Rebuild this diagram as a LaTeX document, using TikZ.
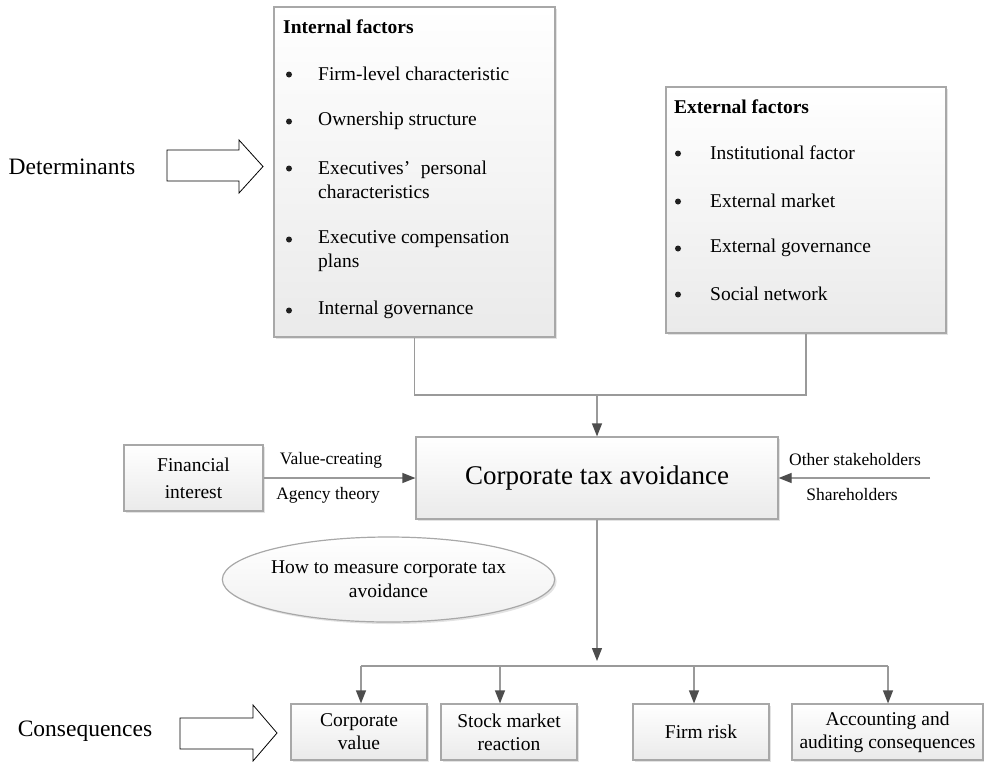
\documentclass[tikz,border=0pt]{standalone}
\usepackage{fontspec}
\setmainfont{Liberation Serif}
\usetikzlibrary{arrows.meta,shadows,shapes.geometric}

\definecolor{edgegray}{HTML}{A8A8A8}
\definecolor{linegray}{HTML}{9A9A9A}
\definecolor{tipgray}{HTML}{4D4D4D}
\definecolor{fillbot}{HTML}{EAEAEA}
\definecolor{fillell}{HTML}{F0F0F0}
\definecolor{bulletc}{HTML}{202020}

\tikzset{
  panel/.style={draw=edgegray, line width=1.2pt, top color=white, bottom color=fillbot,
    drop shadow={shadow xshift=2pt, shadow yshift=-2pt, opacity=0.22, fill=gray},
    inner sep=0pt, align=center},
  conn/.style={draw=linegray, line width=1.2pt},
  arr/.style={conn, -{Triangle[width=10pt,length=13pt,color=tipgray]}},
  itm/.style={font=\fontsize{19.5}{24}\selectfont, inner sep=0pt, anchor=west, align=left},
  ttl/.style={font=\fontsize{19.5}{24}\selectfont\bfseries, inner sep=0pt, anchor=west},
  bul/.style={circle, fill=bulletc, inner sep=0pt, minimum size=6pt},
  lbl/.style={font=\fontsize{17.5}{24}\selectfont, inner sep=0pt, align=center},
  big/.style={font=\fontsize{23.5}{28}\selectfont, inner sep=0pt},
  bottombox/.style={panel, minimum height=56, font=\fontsize{19.5}{23}\selectfont},
  hollow/.style={draw=black, line width=0.8pt, fill=white},
}

\begin{document}
\begin{tikzpicture}[x=1pt,y=-1pt]
\useasboundingbox (0,0) rectangle (984,761);

% ---- main boxes
\node[panel, minimum width=281, minimum height=330] (internal) at (414.5,172) {};
\node[panel, minimum width=280, minimum height=246] (external) at (806,210) {};
\node[panel, minimum width=362, minimum height=82, font=\fontsize{27}{32}\selectfont] (central) at (597,478) {Corporate tax avoidance};
\node[panel, minimum width=139, minimum height=66, font=\fontsize{19.5}{27}\selectfont] (fin) at (193.5,478) {Financial\\interest};
\node[panel, ellipse, bottom color=fillell, minimum width=279, minimum height=85, font=\fontsize{19.5}{24}\selectfont] (measure) at (388.5,579.5) {How to measure corporate tax\\avoidance};

% ---- bottom boxes
\node[bottombox, minimum width=136] (cv) at (359,732) {Corporate\\value};
\node[bottombox, minimum width=136] (sm) at (509,732) {Stock market\\reaction};
\node[bottombox, minimum width=136] (fr) at (701,732) {Firm risk};
\node[bottombox, minimum width=191] (ac) at (887.5,732) {Accounting and\\auditing consequences};

% ---- internal factors text
\node[ttl] (it) at (283,27) {Internal factors};
\node[bul] (ib1) at (289,74.5) {};
\node[itm] (i1) at (318,74) {Firm-level characteristic};
\node[bul] (ib2) at (289,121.5) {};
\node[itm] (i2) at (318,121) {Ownership structure};
\node[bul] (ib3) at (289,168.5) {};
\node[itm] (i3) at (318,180) {Executives’\hspace{0.55em}personal\\characteristics};
\node[bul] (ib4) at (289,239.5) {};
\node[itm] (i4) at (318,251) {Executive compensation\\plans};
\node[bul] (ib5) at (289,310.5) {};
\node[itm] (i5) at (318,310) {Internal governance};

% ---- external factors text
\node[ttl] (et) at (674,107) {External factors};
\node[bul] (eb1) at (678,153.5) {};
\node[itm] (e1) at (710,153) {Institutional factor};
\node[bul] (eb2) at (678,201.5) {};
\node[itm] (e2) at (710,201) {External market};
\node[bul] (eb3) at (678,248.5) {};
\node[itm] (e3) at (710,248) {External governance};
\node[bul] (eb4) at (678,294.5) {};
\node[itm] (e4) at (710,294) {Social network};

% ---- side labels and hollow arrows
\node[big] (det) at (72,167) {Determinants};
\node[big] (cons) at (85,731) {Consequences};
\draw[hollow] (167,150) -- (239,150) -- (239,140) -- (263,166.5) -- (239,193) -- (239,181) -- (167,181) -- cycle;
\draw[hollow] (180,718) -- (253,718) -- (253,705) -- (277,733) -- (253,761) -- (253,749) -- (180,749) -- cycle;

% ---- top connector
\coordinate (j) at (597,395);
\draw[conn] (internal.south) |- (j) -| (external.south);
\draw[arr] (j) -- (central.north);

% ---- side arrows and labels
\draw[arr] (fin.east) -- (central.west);
\node[lbl] (vc) at (331,460) {Value-creating};
\node[lbl] (at) at (328,495) {Agency theory};
\coordinate (rs) at (930,478);
\draw[arr] (rs) -- (central.east);
\node[lbl] (os) at (855,460) {Other stakeholders};
\node[lbl] (sh) at (852,495) {Shareholders};

% ---- bottom connectors
\coordinate (bc) at (597,666);
\coordinate (b1) at (361,666);
\coordinate (b2) at (500,666);
\coordinate (b3) at (694,666);
\coordinate (b4) at (888,666);
\draw[arr] (central.south) -- ([yshift=5pt]bc);
\draw[conn] (b1) -- (b4);
\draw[arr] (b1) -- (b1 |- cv.north);
\draw[arr] (b2) -- (b2 |- sm.north);
\draw[arr] (b3) -- (b3 |- fr.north);
\draw[arr] (b4) -- (b4 |- ac.north);
\end{tikzpicture}
\end{document}
